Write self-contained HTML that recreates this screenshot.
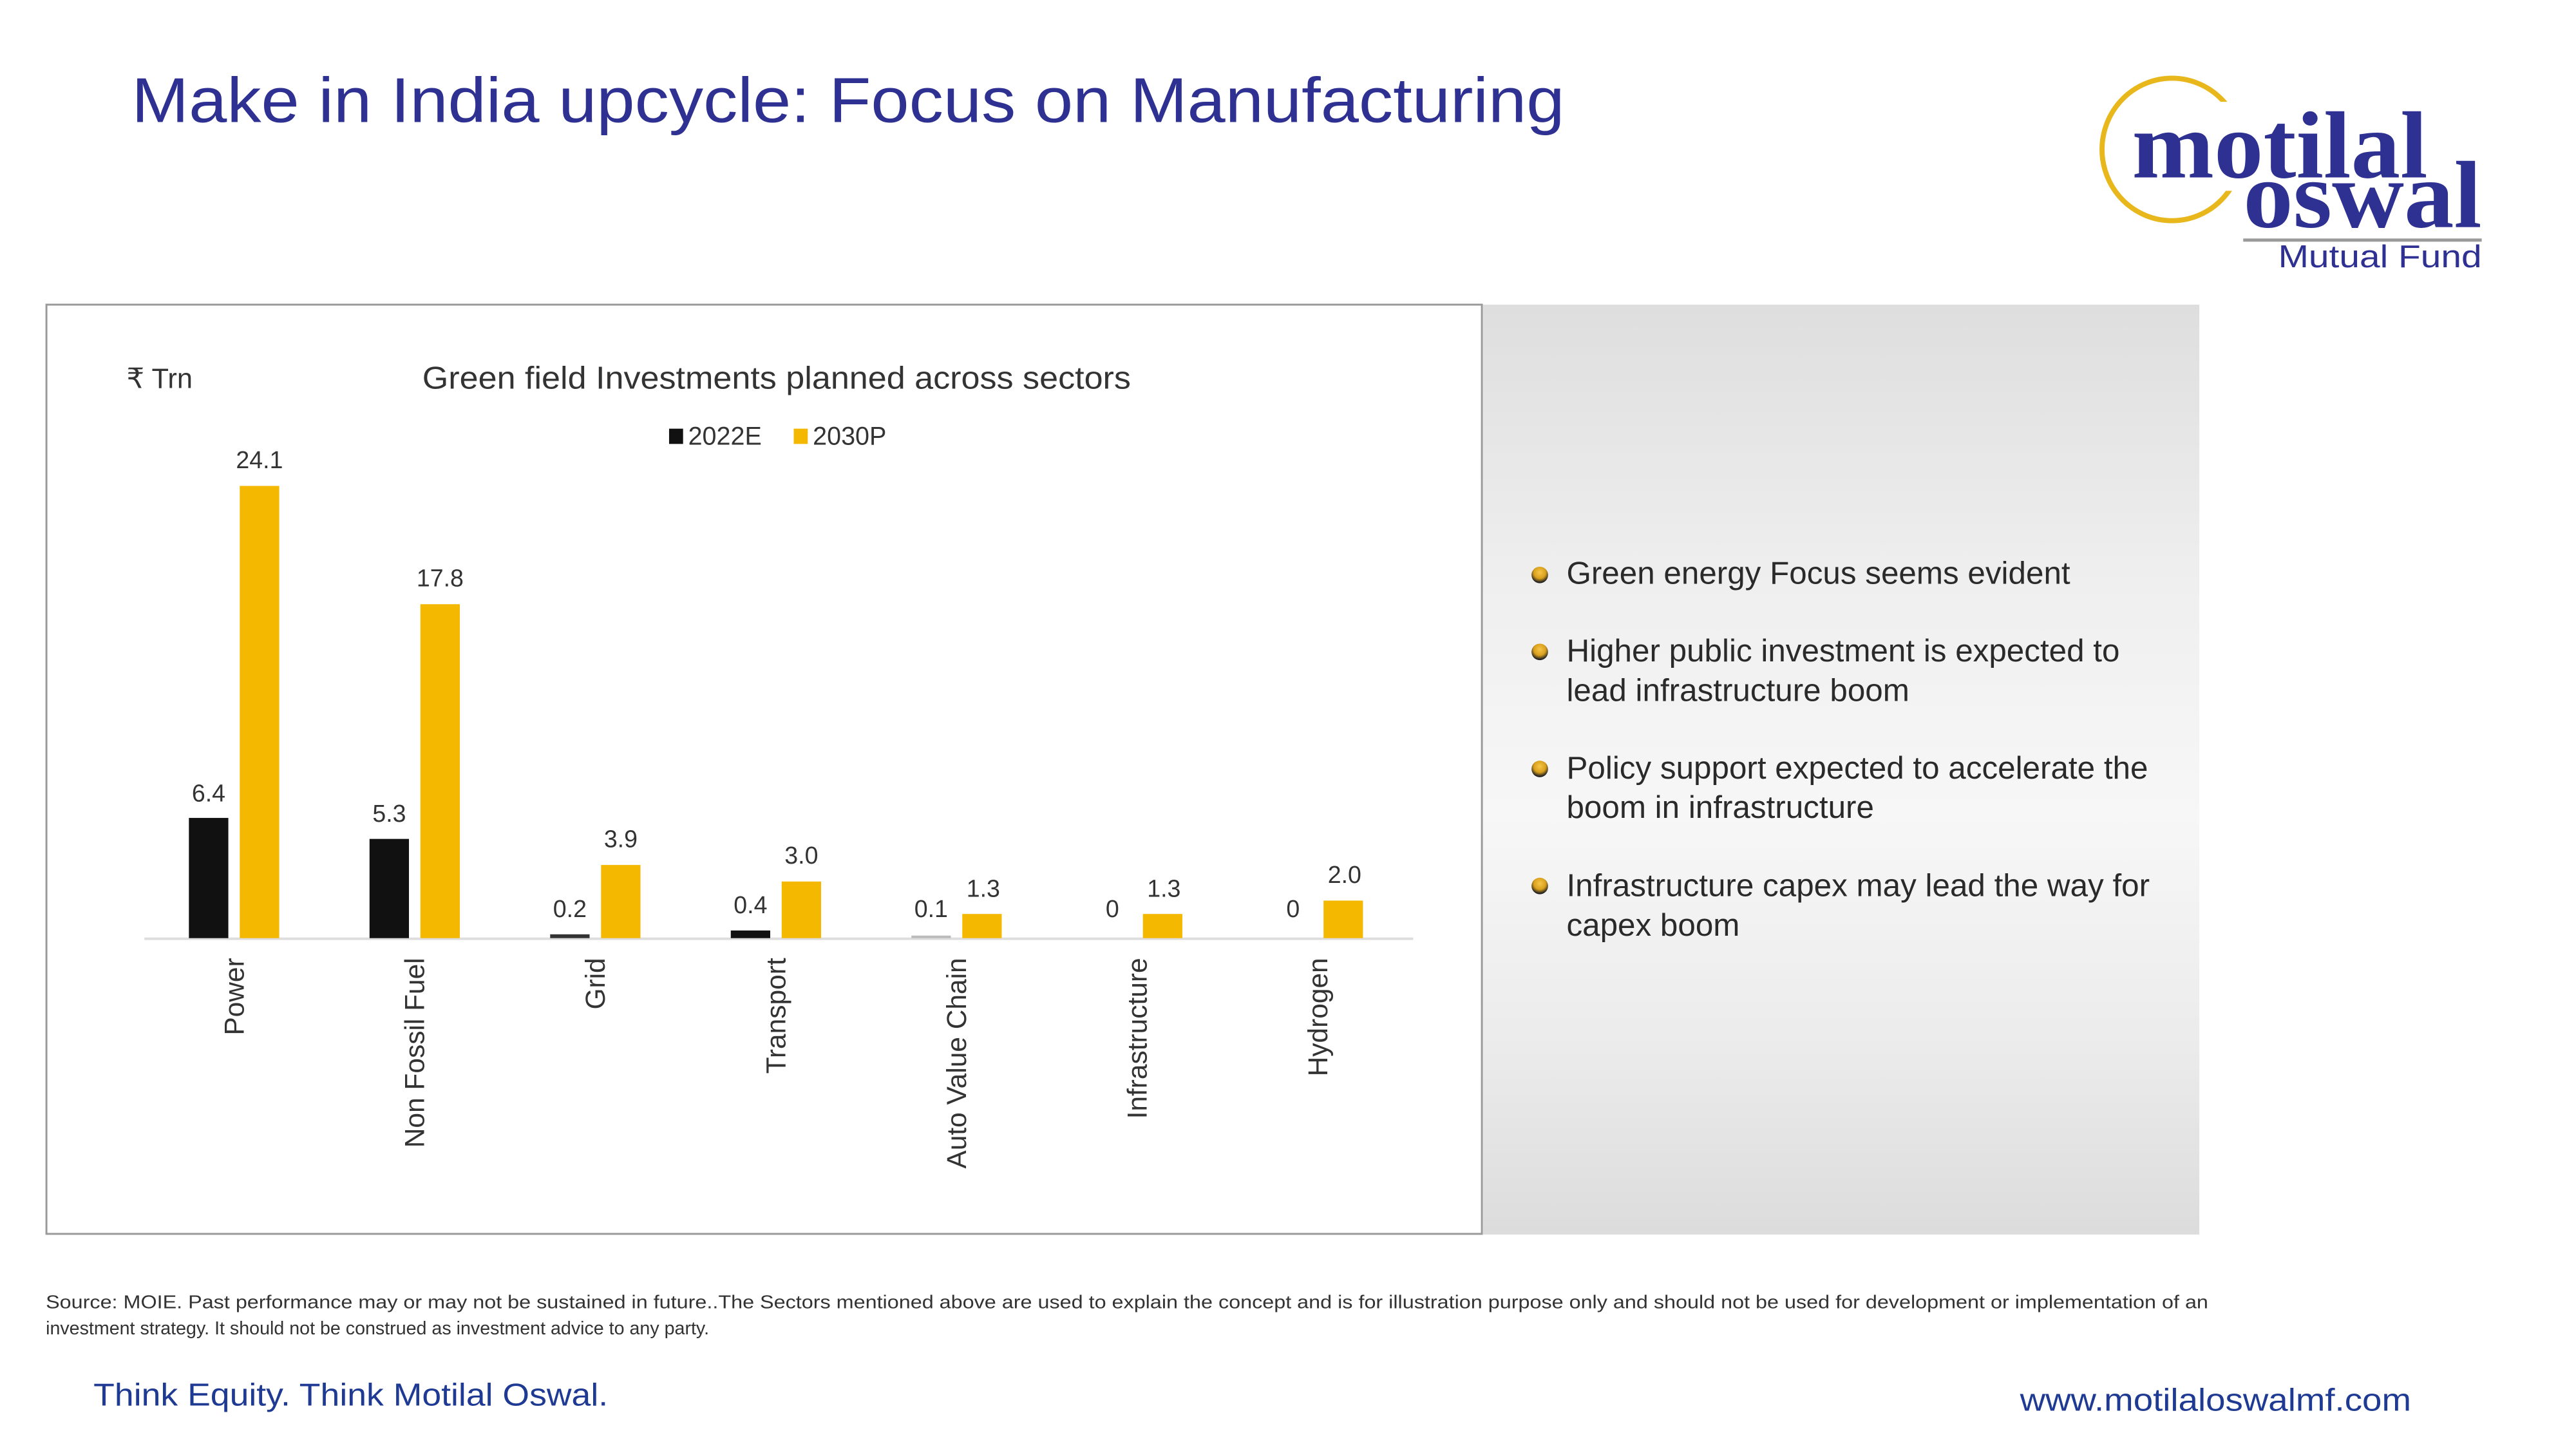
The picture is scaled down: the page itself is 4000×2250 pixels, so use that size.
<!DOCTYPE html>
<html><head><meta charset="utf-8"><style>
html,body{margin:0;padding:0;background:#fff;}
svg{display:block;}
</style></head><body>
<svg width="4000" height="2250" viewBox="0 0 4000 2250" xmlns="http://www.w3.org/2000/svg" font-family="Liberation Sans, sans-serif">
<defs>
<linearGradient id="pg" x1="0" y1="0" x2="0" y2="1">
<stop offset="0" stop-color="#dedede"/>
<stop offset="0.3" stop-color="#efefef"/>
<stop offset="0.55" stop-color="#f7f7f7"/>
<stop offset="0.8" stop-color="#ebebeb"/>
<stop offset="1" stop-color="#dcdcdc"/>
</linearGradient>
<radialGradient id="bul" cx="0.5" cy="0.35" r="0.6">
<stop offset="0" stop-color="#f7c64a"/><stop offset="0.6" stop-color="#d9a01c"/><stop offset="1" stop-color="#222"/>
</radialGradient>
</defs>
<rect width="4000" height="2250" fill="#fff"/>
<g transform="scale(0.9876)">
<text x="207" y="192" font-family="Liberation Sans, sans-serif" font-size="100" fill="#2e3192" textLength="2253" lengthAdjust="spacingAndGlyphs">Make in India upcycle: Focus on Manufacturing</text>

<ellipse cx="3415" cy="235" rx="110" ry="112" fill="none" stroke="#e8b71c" stroke-width="8"/>
<rect x="3440" y="160" width="100" height="140" fill="#fff"/>
<text x="3352" y="279" font-family="Liberation Serif, serif" font-weight="bold" font-size="150" fill="#2e3192" textLength="465" lengthAdjust="spacingAndGlyphs">motilal</text>
<text x="3527" y="357" font-family="Liberation Serif, serif" font-weight="bold" font-size="150" fill="#2e3192" textLength="375" lengthAdjust="spacingAndGlyphs">oswal</text>
<rect x="3527" y="375" width="375" height="5" fill="#9a9a9a"/>
<text x="3902" y="420" text-anchor="end" font-size="50" fill="#2e3192" textLength="320" lengthAdjust="spacingAndGlyphs">Mutual Fund</text>

<rect x="73" y="479" width="2257" height="1461" fill="#fff" stroke="#999" stroke-width="3"/>
<rect x="2332" y="479" width="1126" height="1462" fill="url(#pg)"/>

<text x="199" y="610" font-size="44" fill="#333">₹ Trn</text>
<text x="664" y="611" font-size="50" fill="#333" textLength="1114" lengthAdjust="spacingAndGlyphs">Green field Investments planned across sectors</text>
<rect x="1052" y="674" width="22" height="24" fill="#111"/>
<text x="1082" y="699" font-size="40" fill="#333">2022E</text>
<rect x="1248" y="674" width="22" height="24" fill="#f5b800"/>
<text x="1278" y="699" font-size="40" fill="#333">2030P</text>

<line x1="227" y1="1476" x2="2222" y2="1476" stroke="#ddd" stroke-width="4"/>
<g font-size="38" fill="#333" text-anchor="middle">
<rect x="297" y="1286" width="62" height="189" fill="#111"/>
<rect x="377" y="764" width="62" height="711" fill="#f5b800"/>
<text x="328" y="1260">6.4</text><text x="408" y="736">24.1</text>
<rect x="581" y="1319" width="62" height="156" fill="#111"/>
<rect x="661" y="950" width="62" height="525" fill="#f5b800"/>
<text x="612" y="1292">5.3</text><text x="692" y="922">17.8</text>
<rect x="865" y="1469" width="62" height="6" fill="#333"/>
<rect x="945" y="1360" width="62" height="115" fill="#f5b800"/>
<text x="896" y="1442">0.2</text><text x="976" y="1332">3.9</text>
<rect x="1149" y="1463" width="62" height="12" fill="#111"/>
<rect x="1229" y="1386" width="62" height="89" fill="#f5b800"/>
<text x="1180" y="1436">0.4</text><text x="1260" y="1358">3.0</text>
<rect x="1433" y="1471" width="62" height="4" fill="#bbb"/>
<rect x="1513" y="1437" width="62" height="38" fill="#f5b800"/>
<text x="1464" y="1442">0.1</text><text x="1546" y="1410">1.3</text>
<rect x="1797" y="1437" width="62" height="38" fill="#f5b800"/>
<text x="1749" y="1442">0</text><text x="1830" y="1410">1.3</text>
<rect x="2081" y="1416" width="62" height="59" fill="#f5b800"/>
<text x="2033" y="1442">0</text><text x="2114" y="1388">2.0</text>
</g>
<g font-size="43" fill="#333" text-anchor="end">
<text transform="translate(383,1506) rotate(-90)">Power</text>
<text transform="translate(667,1506) rotate(-90)">Non Fossil Fuel</text>
<text transform="translate(951,1506) rotate(-90)">Grid</text>
<text transform="translate(1235,1506) rotate(-90)">Transport</text>
<text transform="translate(1519,1506) rotate(-90)">Auto Value Chain</text>
<text transform="translate(1803,1506) rotate(-90)">Infrastructure</text>
<text transform="translate(2087,1506) rotate(-90)">Hydrogen</text>
</g>

<g font-size="50" fill="#2a2a2a">
<circle cx="2421" cy="904" r="13" fill="url(#bul)"/>
<text x="2463" y="918">Green energy Focus seems evident</text>
<circle cx="2421" cy="1025" r="13" fill="url(#bul)"/>
<text x="2463" y="1040">Higher public investment is expected to</text>
<text x="2463" y="1102">lead infrastructure boom</text>
<circle cx="2421" cy="1209" r="13" fill="url(#bul)"/>
<text x="2463" y="1224">Policy support expected to accelerate the</text>
<text x="2463" y="1286">boom in infrastructure</text>
<circle cx="2421" cy="1393" r="13" fill="url(#bul)"/>
<text x="2463" y="1409">Infrastructure capex may lead the way for</text>
<text x="2463" y="1471">capex boom</text>
</g>

<g font-size="29" fill="#333">
<text x="72" y="2057" textLength="3400" lengthAdjust="spacingAndGlyphs">Source: MOIE. Past performance may or may not be sustained in future..The Sectors mentioned above are used to explain the concept and is for illustration purpose only and should not be used for development or implementation of an</text>
<text x="72" y="2098">investment strategy. It should not be construed as investment advice to any party.</text>
</g>
<text x="147" y="2210" font-size="50" fill="#1f3a93" textLength="809" lengthAdjust="spacingAndGlyphs">Think Equity. Think Motilal  Oswal.</text>
<text x="3176" y="2218" font-size="50" fill="#1f3a93" textLength="615" lengthAdjust="spacingAndGlyphs">www.motilaloswalmf.com</text>
</g>
</svg>
</body></html>
